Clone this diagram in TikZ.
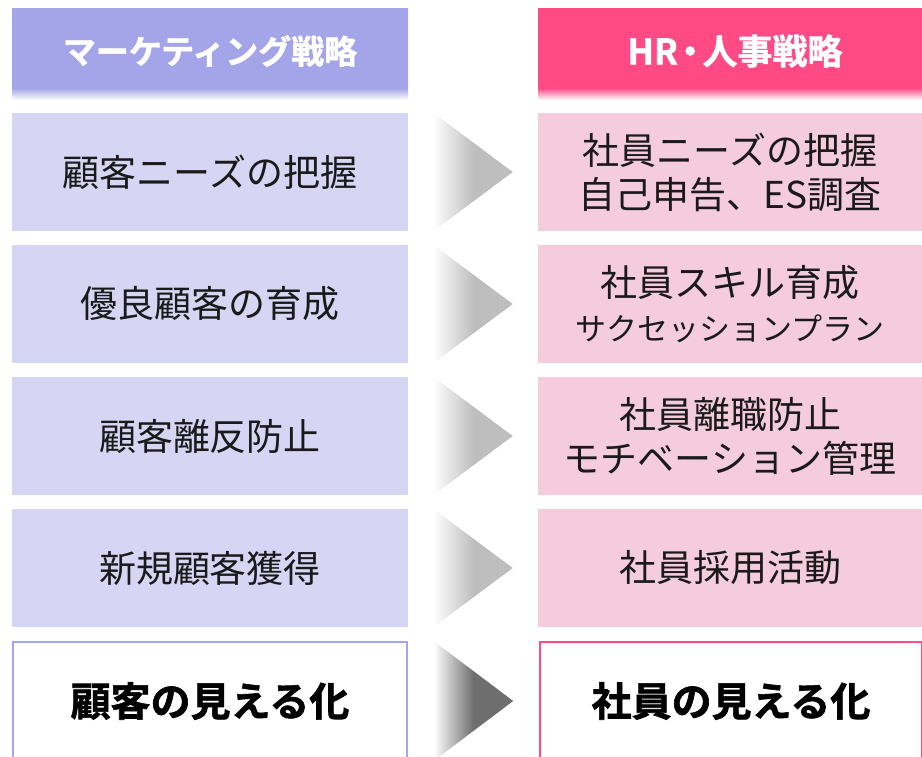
\documentclass[tikz,border=0pt]{standalone}
\usepackage{fontspec}
\newfontfamily\jp{Noto Sans CJK JP}[BoldFont={Noto Sans CJK JP Bold}, BoldFeatures={FakeBold=1.5}]
\usetikzlibrary{calc}

\definecolor{mktHead}{HTML}{A3A5E8}
\definecolor{mktBox}{HTML}{D6D6F4}
\definecolor{mktLine}{HTML}{A3A5EE}
\definecolor{hrHead}{HTML}{FF4A86}
\definecolor{hrBox}{HTML}{F5CCDC}
\definecolor{arrowLight}{HTML}{BEBEBE}
\definecolor{arrowDark}{HTML}{6E6E6E}
\definecolor{ink}{HTML}{1A1A1A}

% Fades
\pgfdeclareverticalshading{mktFade}{100bp}{color(0bp)=(white); color(25bp)=(white); color(31.5bp)=(mktHead); color(100bp)=(mktHead)}
\pgfdeclareverticalshading{hrFade}{100bp}{color(0bp)=(white); color(25bp)=(white); color(31.5bp)=(hrHead); color(100bp)=(hrHead)}
\pgfdeclarehorizontalshading{arrowLightShade}{100bp}{color(0bp)=(white); color(25bp)=(white); color(50bp)=(arrowLight); color(100bp)=(arrowLight)}
\pgfdeclarehorizontalshading{arrowDarkShade}{100bp}{color(0bp)=(white); color(25bp)=(white); color(50bp)=(arrowDark); color(100bp)=(arrowDark)}

\begin{document}
\begin{tikzpicture}[x=1pt, y=-1pt,
	title/.style={text=white, font=\jp\bfseries\fontsize{33}{38}\selectfont},
	row/.style={inner sep=0pt, minimum height=118pt, align=center, text=ink,
		font=\jp\fontsize{37}{44}\selectfont},
	mktbox/.style={row, fill=mktBox, minimum width=396pt},
	hrbox/.style={row, fill=hrBox, minimum width=384pt},
	goal/.style={inner sep=0pt, minimum height=118pt, fill=white, line width=1.6pt,
		font=\jp\bfseries\fontsize{40}{46}\selectfont}]
	
	\useasboundingbox (0,0) rectangle (922,756);
	
	% Headers
	\shade[shading=mktFade] (12,8) rectangle (408,100);
	\shade[shading=hrFade] (538,8) rectangle (922,100);
	\node[title] (mktTitle) at (210,51) {マーケティング戦略};
	\node[title, font=\jp\bfseries\fontsize{35}{38}\selectfont] (hrTitle) at (735,51)
		{HR\kern-0.15em・\kern-0.15em人事戦略};
	
	% Rows
	\foreach \i/\mkt/\hr in {
		1/{顧客ニーズの把握}/{社員ニーズの把握\\自己申告、ES調査},
		2/{優良顧客の育成}/{社員スキル育成\\{\fontsize{31}{40}\selectfont サクセッションプラン}},
		3/{顧客離反防止}/{社員離職防止\\モチベーション管理},
		4/{新規顧客獲得}/{社員採用活動}}{
		\pgfmathsetmacro\rowy{40+132*\i}
		\node[mktbox] (mkt\i) at (210,\rowy) {\mkt};
		\node[hrbox] (hr\i) at (730,\rowy) {\hr};
		\shade[shading=arrowLightShade] ($(mkt\i.north east)+(25,0)$)
			-- ($(mkt\i.south east)+(25,0)$) -- ($(hr\i.west)+(-25,0)$) -- cycle;
	}
	
	% Goal
	\node[goal, draw=mktLine, minimum width=394pt] (mkt5) at (210,701) {顧客の見える化};
	\node[goal, draw=hrHead, minimum width=382pt] (hr5) at (731,701) {社員の見える化};
	\shade[shading=arrowDarkShade] ($(mkt5.north east)+(26,0)$)
		-- ($(mkt5.south east)+(26,0)$) -- ($(hr5.west)+(-26,0)$) -- cycle;
	
\end{tikzpicture}
\end{document}
